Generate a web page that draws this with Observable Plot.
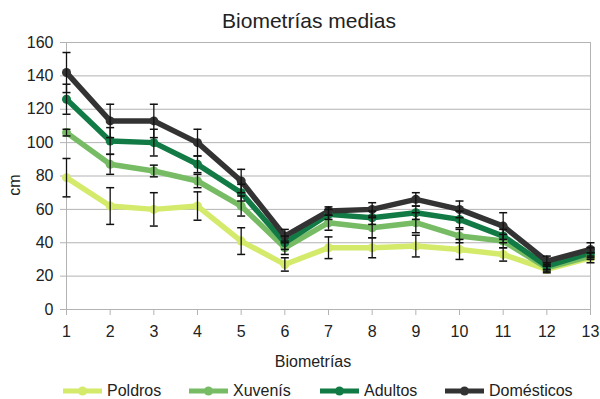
<!DOCTYPE html>
<html><head><meta charset="utf-8">
<script src="https://cdn.jsdelivr.net/npm/d3@7"></script>
<script src="https://cdn.jsdelivr.net/npm/@observablehq/plot@0.6"></script>
<style>
body{margin:0;background:#fff;font-family:"Liberation Sans",Arial,sans-serif;}
#wrap{position:relative;width:600px;height:399px;overflow:hidden;background:#fff}
#wrap > svg{position:absolute;left:0;top:0}
.t{position:absolute;white-space:nowrap;color:#222;line-height:1}
.leg{position:absolute;top:383px;display:flex;align-items:center;font-size:16px;line-height:16px;color:#222;white-space:nowrap}
#wrap .leg svg{position:static;margin-right:5px;display:block}
</style></head><body><div id="wrap"></div>
<script>
const biometrias = [1,2,3,4,5,6,7,8,9,10,11,12,13];
const series = ["Poldros","Xuvenís","Adultos","Domésticos"];
const colors = ["#d4ea6b","#77bc65","#127b45","#333333"];
const yTicks = [0,20,40,60,80,100,120,140,160];

const poldros     = [79, 62, 60, 62, 41, 27, 37, 37, 38, 36, 33, 24, 31];
const poldrosErr  = [11.5, 11, 10, 8.5, 8, 4, 6.5, 6, 6.5, 6, 4, 2, 3];
const xuvenis     = [106, 87, 83, 77, 62, 37, 52, 49, 52, 44, 41, 25, 32];
const xuvenisErr  = [2, 6, 3.5, 4, 6, 4, 4.5, 6, 6, 4, 4, 2, 2];
const adultos     = [126, 101, 100, 87, 70, 40, 57, 55, 58, 54, 44, 26, 34];
const adultosErr  = [9, 8, 8, 5, 5, 4, 3, 4, 4, 5, 4, 2, 3];
const domesticos  = [142, 113, 113, 100, 77, 44, 59, 60, 66, 60, 50, 29, 36];
const domesticosErr = [12, 10, 10, 8, 7, 4, 2.5, 4, 4, 5, 8, 3, 4];

const means = [poldros, xuvenis, adultos, domesticos];
const errs = [poldrosErr, xuvenisErr, adultosErr, domesticosErr];

const rows = [];
series.forEach((s, i) => biometrias.forEach((b, j) => rows.push({serie: s, x: b, y: means[i][j], err: errs[i][j]})));
const caps = [];
rows.forEach(d => { caps.push({x: d.x, y: d.y - d.err}); caps.push({x: d.x, y: d.y + d.err}); });

const capSymbol = {draw(ctx, size){ const w = Math.sqrt(size/Math.PI); ctx.moveTo(-w,0); ctx.lineTo(w,0); }};

const chart = Plot.plot({
  width: 600, height: 399,
  marginLeft: 66, marginRight: 10, marginTop: 42, marginBottom: 90,
  style: {fontFamily: "Liberation Sans, Arial, sans-serif", fontSize: "16px", background: "#fff"},
  x: {type: "linear", domain: [1, 13], label: null, axis: null},
  y: {domain: [0, 160], label: null, axis: null},
  color: {domain: series, range: colors},
  marks: [
    Plot.gridY(yTicks, {stroke: "#b3b3b3", strokeOpacity: 1, strokeWidth: 1}),
    Plot.ruleX([1, 13], {stroke: "#b3b3b3", strokeWidth: 1}),
    Plot.ruleY([0], {stroke: "#b3b3b3", strokeWidth: 1}),
    Plot.axisY(yTicks, {tickSize: 6, tickPadding: 7, stroke: "#b3b3b3", fill: "#222", label: null, tickFormat: d => String(d)}),
    Plot.axisX(biometrias, {tickSize: 6, tickPadding: 10, stroke: "#b3b3b3", fill: "#222", label: null, tickFormat: d => String(d)}),
    Plot.line(rows, {x: "x", y: "y", z: "serie", stroke: "serie", strokeWidth: 5.5, strokeLinejoin: "round", strokeLinecap: "round"}),
    Plot.dot(rows, {x: "x", y: "y", fill: "serie", r: 4.5}),
    Plot.ruleX(rows, {x: "x", y1: d => d.y - d.err, y2: d => d.y + d.err, stroke: "#111", strokeWidth: 1.3}),
    Plot.dot(caps, {x: "x", y: "y", symbol: capSymbol, r: 4, stroke: "#111", strokeWidth: 1.5, fill: "none"})
  ]
});
const wrap = document.getElementById("wrap");
wrap.appendChild(chart);

function addText(txt, css){ const d = document.createElement("div"); d.className = "t"; d.textContent = txt; Object.assign(d.style, css); wrap.appendChild(d); return d; }
addText("Biometrías medias", {left: "309px", top: "10px", fontSize: "21px", transform: "translateX(-50%)"});
addText("Biometrías", {left: "313px", top: "354px", fontSize: "16px", transform: "translateX(-50%)"});
addText("cm", {left: "14.5px", top: "185px", fontSize: "16px", transform: "translate(-50%,-50%) rotate(-90deg)"});

const legLeft = [63, 189, 320, 445];
series.forEach((s, i) => {
  const item = document.createElement("div");
  item.className = "leg";
  item.style.left = legLeft[i] + "px";
  item.innerHTML = `<svg width="39" height="12"><line x1="0" y1="6" x2="39" y2="6" stroke="${colors[i]}" stroke-width="5"/><circle cx="19.5" cy="6" r="4.5" fill="${colors[i]}"/></svg><span>${s}</span>`;
  wrap.appendChild(item);
});
</script></body></html>
